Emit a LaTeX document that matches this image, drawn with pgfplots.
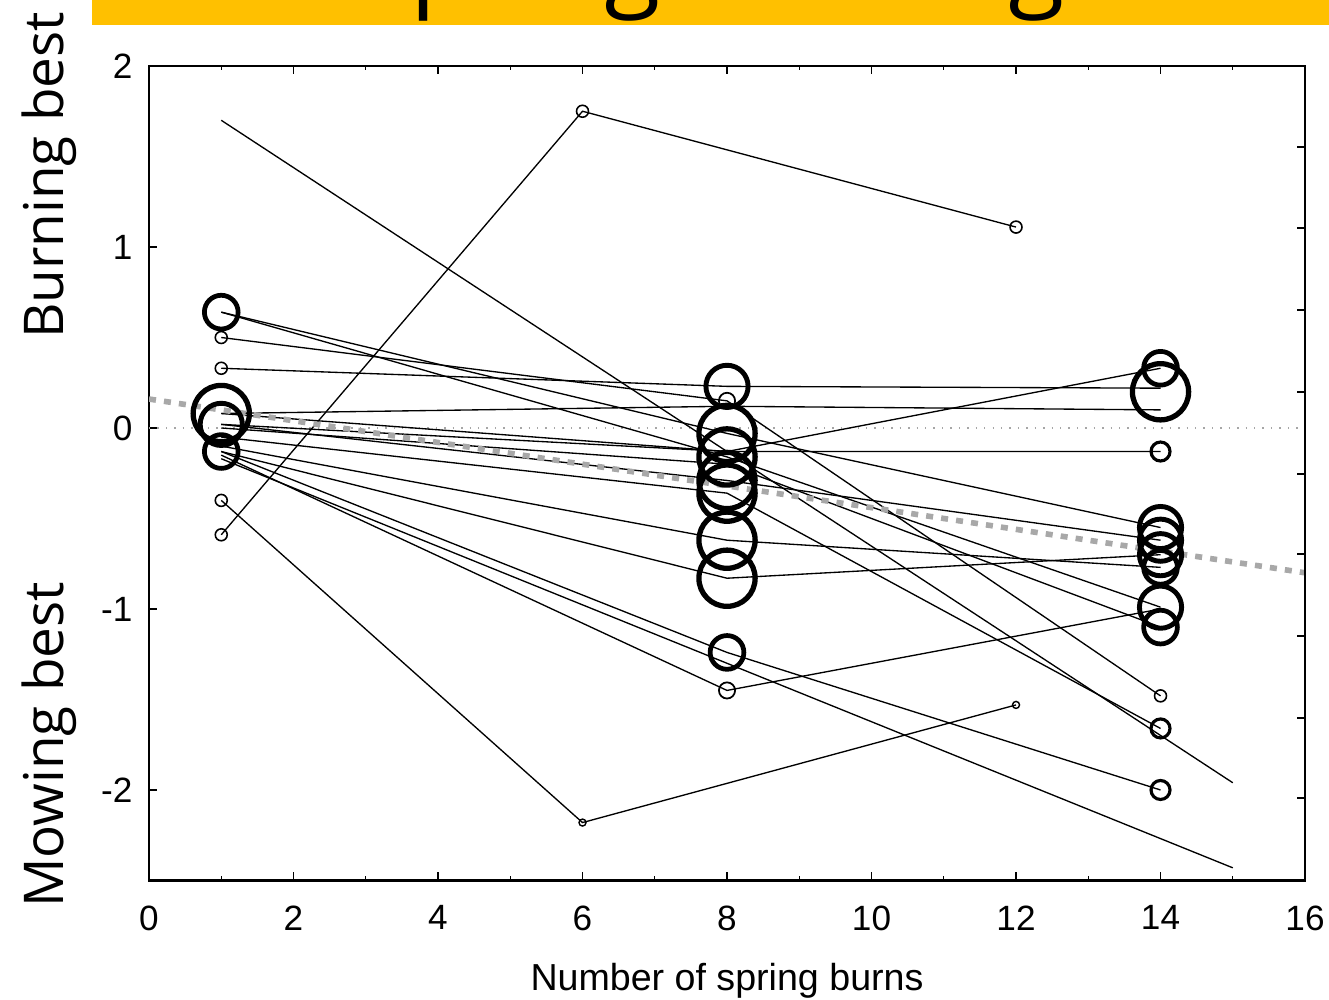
\documentclass[border=0pt]{standalone}
\usepackage{fontspec}
\setmainfont{Liberation Sans}
\newfontfamily\osfont{Open Sans}
\usepackage{pgfplots}
\pgfplotsset{compat=1.18}
\definecolor{banner}{HTML}{FFC000}
\definecolor{trend}{HTML}{A8A8A8}
\pgfplotsset{site/.style={black, line width=0.38pt, mark=none, solid}}
\begin{document}
\begin{tikzpicture}
\useasboundingbox (-1.49cm,-1.195cm) rectangle (11.80cm,8.805cm);
% banner with clipped title
\fill[banner] (-0.57cm,8.555cm) rectangle (11.80cm,8.805cm);
\begin{scope}
\clip (-0.57cm,8.555cm) rectangle (11.80cm,8.805cm);
\node[anchor=base west, inner sep=0pt, font=\osfont\fontsize{29.3}{34}\selectfont] at (2.04cm,8.84cm) {Spring burning};
\end{scope}
% side labels
\node[rotate=90, anchor=base, inner sep=0pt, font=\osfont\fontsize{15.6}{19}\selectfont] at (-0.85cm,7.05cm) {Burning best};
\node[rotate=90, anchor=base, inner sep=0pt, font=\osfont\fontsize{15.6}{19}\selectfont] at (-0.85cm,1.355cm) {Mowing best};

\begin{axis}[
  at={(0,0)}, anchor=south west, scale only axis,
  width=11.56cm, height=8.145cm,
  xmin=0, xmax=16, ymin=-2.5, ymax=2,
  xtick={0,2,4,6,8,10,12,14,16},
  xticklabels={0,2,4,6,8,10,12,14,16},
  minor x tick num=1,
  ytick={-2,-1,0,1,2},
  yticklabels={-2,-1,0,1,2},
  xtick pos=both, ytick pos=left,
  tick align=inside,
  major tick length=0.08cm, minor tick length=0.04cm,
  every tick/.style={black, line width=0.4pt},
  axis line style={black, line width=0.6pt},
  tick label style={font=\fontsize{10}{12}\selectfont, inner sep=0pt},
  xticklabel shift=0.245cm, yticklabel shift=0.16cm,
  xlabel={Number of spring burns},
  xlabel style={at={(axis description cs:0.5,0)}, anchor=north, inner sep=0pt, yshift=-0.82cm, font=\fontsize{10.7}{13}\selectfont},
  clip=true,
]
% zero reference
\addplot[gray!70, dotted, line width=0.4pt] coordinates {(0,0) (16,0)};
% site trajectories
\addplot[site] coordinates {(1,1.70) (15,-1.96)};
\addplot[site] coordinates {(1,-0.59) (6,1.75) (12,1.11)};
\addplot[site] coordinates {(1,-0.40) (6,-2.18) (12,-1.53)};
\addplot[site] coordinates {(1,0.64) (8,-0.03) (14,-0.55)};
\addplot[site] coordinates {(1,0.64) (8,-0.16) (14,-0.99)};
\addplot[site] coordinates {(1,0.50) (8,0.15) (14,-1.48)};
\addplot[site] coordinates {(1,0.33) (8,0.23) (14,0.22)};
\addplot[site] coordinates {(1,0.08) (8,0.12) (14,0.10)};
\addplot[site] coordinates {(1,0.08) (8,-0.13) (14,0.33)};
\addplot[site] coordinates {(1,0.02) (8,-0.13) (14,-0.13)};
\addplot[site] coordinates {(1,0.02) (8,-0.29) (14,-0.62)};
\addplot[site] coordinates {(1,-0.05) (8,-0.36) (14,-1.66)};
\addplot[site] coordinates {(1,-0.10) (8,-0.62) (14,-0.77)};
\addplot[site] coordinates {(1,-0.13) (8,-0.83) (14,-0.70)};
\addplot[site] coordinates {(1,-0.13) (8,-1.24) (14,-2.00)};
\addplot[site] coordinates {(1,-0.15) (8,-1.45) (14,-1.00)};
\addplot[site] coordinates {(1,-0.17) (15,-2.43)};
\addplot[site] coordinates {(1,0.00) (8,-0.20) (14,-1.10)};
% markers (circle size = weight)
\addplot[only marks, black, mark=o, mark size=1.0pt, line width=0.4pt] coordinates {(6,-2.18) (12,-1.53)};
\addplot[only marks, black, mark=o, mark size=1.7pt, line width=0.45pt] coordinates {(1,0.50) (1,0.33) (1,-0.40) (1,-0.59) (12,1.11) (14,-1.48) (6,1.75)};
\addplot[only marks, black, mark=o, mark size=2.3pt, line width=0.5pt] coordinates {(8,0.15) (8,-1.45)};
\addplot[only marks, black, mark=o, mark size=2.7pt, line width=0.9pt] coordinates {(14,-0.13) (14,-1.66) (14,-2.00)};
\addplot[only marks, black, mark=o, mark size=4.8pt, line width=1.35pt] coordinates {(1,0.64) (1,-0.13) (8,-1.24) (14,0.33) (14,-1.10) (14,-0.77)};
\addplot[only marks, black, mark=o, mark size=6pt, line width=1.4pt] coordinates {(8,0.23) (14,-0.55) (14,-0.62) (14,-0.70) (14,-0.99) (1,0.02)};
\addplot[only marks, black, mark=o, mark size=8pt, line width=1.5pt] coordinates {(1,0.08) (8,-0.03) (8,-0.16) (8,-0.29) (8,-0.36) (8,-0.62) (8,-0.83) (14,0.20)};
% overall trend
\addplot[trend, line width=1.6pt, dash pattern=on 2pt off 2.3pt] coordinates {(0,0.16) (16,-0.80)};
\end{axis}
% opposite axis ticks
\begin{axis}[
  at={(0,0)}, anchor=south west, scale only axis,
  width=11.56cm, height=8.145cm,
  xmin=0, xmax=16, ymin=-2.5, ymax=2,
  hide x axis, axis y line*=right,
  ytick={1.552,1.105,0.652,0.199,-0.254,-0.696,-1.149,-1.602,-2.044},
  yticklabels={},
  ytick align=inside,
  major tick length=0.08cm,
  every tick/.style={black, line width=0.4pt},
  axis line style={black, line width=0.6pt},
]
\end{axis}
\end{tikzpicture}
\end{document}
